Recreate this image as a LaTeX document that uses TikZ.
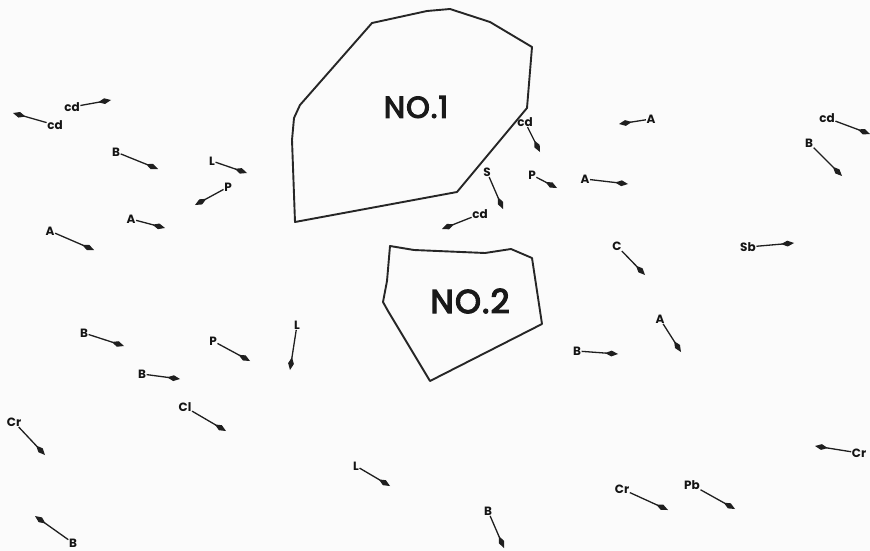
\documentclass[tikz,border=0pt]{standalone}
\usepackage{fontspec}
\setmainfont{Poppins}
\newfontfamily\bigfont[FakeBold=4,LetterSpace=4]{Poppins}
\usetikzlibrary{arrows.meta}
\tikzset{
  lbl/.style={font=\bfseries\fontsize{12}{12}\selectfont, inner sep=0.5pt, text=black!92},
  vec/.style={line width=1.3pt, -{Kite[length=13pt,width=5.8pt,inset=6.5pt]}, draw=black!88},
  grain/.style={line width=1.9pt, draw=black!85, line join=round},
  big/.style={font=\bigfont\fontsize{30}{30}\selectfont, inner sep=0pt, text=black!90}
}
\begin{document}
\begin{tikzpicture}[x=1pt,y=-1pt]
\fill[gray!3] (0,0) rectangle (870,551);
\useasboundingbox (0,0) rectangle (870,551);

% grains
\draw[grain] (295,222) -- (292,140) -- (294,118) -- (300,105) -- (372,23) -- (427,11) -- (450,9) -- (490,22) -- (532,47) -- (527,108) -- (457,192) -- cycle;
\node[big] (n1) at (416,107) {NO.1};
\draw[grain] (390,246) -- (414,250) -- (485,253) -- (511,249) -- (532,258) -- (542,324) -- (430,381) -- (388,311) -- (383,302) -- (387,281) -- cycle;
\node[big, font=\bigfont\fontsize{33}{33}\selectfont] (n2) at (470,301) {NO.2};

% labels
\node[lbl] (a1) at (55,125) {cd};   \coordinate (t1) at (13,113);
\node[lbl] (a2) at (72,107) {cd};   \coordinate (t2) at (111,100);
\node[lbl] (a3) at (116,152) {B};   \coordinate (t3) at (158,169);
\node[lbl] (a4) at (212,161) {L};   \coordinate (t4) at (247,173);
\node[lbl] (a5) at (228,187) {P};   \coordinate (t5) at (195,205);
\node[lbl] (a6) at (131,219) {A};   \coordinate (t6) at (165,228);
\node[lbl] (a7) at (50,231) {A};    \coordinate (t7) at (94,250);
\node[lbl] (a8) at (525,122) {cd};  \coordinate (t8) at (540,152);
\node[lbl] (a9) at (651,119) {A};   \coordinate (t9) at (619,124);
\node[lbl] (a10) at (827,118) {cd}; \coordinate (t10) at (870,134);
\node[lbl] (a11) at (809,143) {B};  \coordinate (t11) at (842,176);
\node[lbl] (a12) at (487,172) {S};  \coordinate (t12) at (503,209);
\node[lbl] (a13) at (532,175) {P};  \coordinate (t13) at (557,188);
\node[lbl] (a14) at (585,179) {A};  \coordinate (t14) at (628,184);
\node[lbl] (a15) at (480,214) {cd}; \coordinate (t15) at (442,229);
\node[lbl] (a16) at (617,246) {C};  \coordinate (t16) at (645,275);
\node[lbl] (a17) at (748,247) {Sb}; \coordinate (t17) at (794,243);
\node[lbl] (a18) at (660,319) {A};  \coordinate (t18) at (681,352);
\node[lbl] (a19) at (577,351) {B};  \coordinate (t19) at (618,354);
\node[lbl] (a20) at (84,333) {B};   \coordinate (t20) at (124,346);
\node[lbl] (a21) at (213,341) {P};  \coordinate (t21) at (250,361);
\node[lbl] (a22) at (297,325) {L};  \coordinate (t22) at (290,370);
\node[lbl] (a23) at (142,374) {B};  \coordinate (t23) at (180,379);
\node[lbl] (a24) at (185,407) {Cl}; \coordinate (t24) at (226,431);
\node[lbl] (a25) at (14,422) {Cr};  \coordinate (t25) at (45,455);
\node[lbl] (a26) at (73,543) {B};   \coordinate (t26) at (35,516);
\node[lbl] (a27) at (356,466) {L};  \coordinate (t27) at (390,486);
\node[lbl] (a28) at (488,511) {B};  \coordinate (t28) at (504,548);
\node[lbl] (a29) at (622,489) {Cr}; \coordinate (t29) at (668,510);
\node[lbl] (a30) at (692,485) {Pb}; \coordinate (t30) at (735,509);
\node[lbl] (a31) at (859,453) {Cr}; \coordinate (t31) at (815,446);

\foreach \i in {1,...,31} { \draw[vec] (a\i) -- (t\i); }
\end{tikzpicture}
\end{document}
